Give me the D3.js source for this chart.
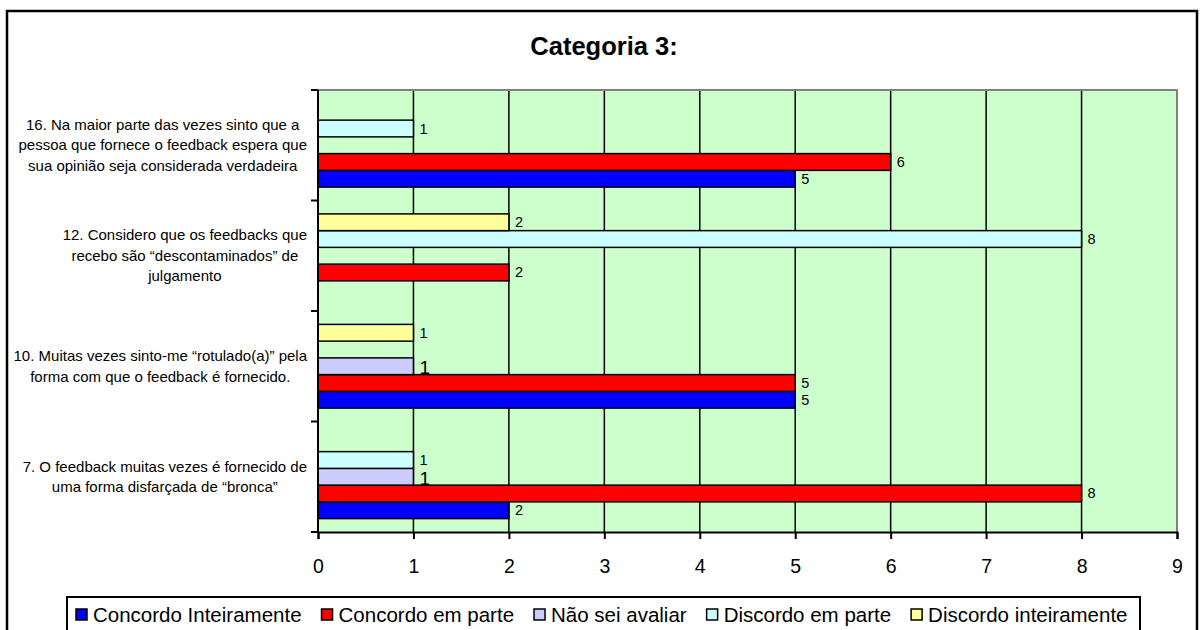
<!DOCTYPE html>
<html>
<head>
<meta charset="utf-8">
<script src="https://cdn.jsdelivr.net/npm/d3@7"></script>
<style>
  body { margin: 0; background: #fff; }
  svg { font-family: "Liberation Sans", Arial, sans-serif; display: block; }
</style>
</head>
<body>
<div id="chart"></div>
<script>
// chart data, category order top to bottom
const categories = [
  "16. Na maior parte das vezes sinto que a\npessoa que fornece o feedback espera que\nsua opinião seja considerada verdadeira",
  "12. Considero que os feedbacks que\nrecebo são “descontaminados” de\njulgamento",
  "10. Muitas vezes sinto-me “rotulado(a)” pela\nforma com que o feedback é fornecido.",
  "7. O feedback muitas vezes é fornecido de\numa forma disfarçada de “bronca”"
];

const seriesNames = ["Concordo Inteiramente", "Concordo em parte", "Não sei avaliar", "Discordo em parte", "Discordo inteiramente"];
const seriesColors = ["#0000FF", "#FF0000", "#CCCCFF", "#CCFFFF", "#FFFF99"];

// values per series (null = no bar)
const concordoInteiramente = [5, null, 5, 2];
const concordoEmParte = [6, 2, 5, 8];
const naoSeiAvaliar = [null, null, 1, 1];
const discordoEmParte = [1, 8, null, 1];
const discordoInteiramente = [null, 2, 1, null];

const xTicks = [0, 1, 2, 3, 4, 5, 6, 7, 8, 9];
const title = "Categoria 3:";

const seriesValues = [concordoInteiramente, concordoEmParte, naoSeiAvaliar, discordoEmParte, discordoInteiramente];

// canvas
const width = 1203;
const height = 630;
const plot = { left: 318, right: 1177, top: 90, bottom: 532 };

const svg = d3.select("#chart")
  .append("svg")
  .attr("width", width)
  .attr("height", height);

// outer frame
svg.append("rect")
  .attr("x", 7).attr("y", 11)
  .attr("width", 1190).attr("height", 700)
  .attr("fill", "#fff")
  .attr("stroke", "#000")
  .attr("stroke-width", 2.5);

// scales
const x = d3.scaleLinear().domain([0, 9]).range([plot.left, plot.right]);
const y = d3.scaleBand().domain(d3.range(categories.length)).range([plot.top, plot.bottom]).padding(0);
// slots inside a category: top slot is last series
const ySlot = d3.scaleBand()
  .domain(d3.range(seriesNames.length).reverse())
  .range([0, y.bandwidth()])
  .paddingInner(0)
  .paddingOuter(0.8);

// title
svg.append("text")
  .attr("x", 604).attr("y", 55)
  .attr("text-anchor", "middle")
  .attr("font-size", 25.5)
  .attr("font-weight", "bold")
  .text(title);

// plot background
svg.append("rect")
  .attr("x", plot.left).attr("y", plot.top)
  .attr("width", plot.right - plot.left)
  .attr("height", plot.bottom - plot.top)
  .attr("fill", "#CCFFCC");

// gridlines
svg.append("g")
  .selectAll("line")
  .data(xTicks.filter(d => d > 0 && d < 9))
  .enter().append("line")
  .attr("x1", d => x(d)).attr("x2", d => x(d))
  .attr("y1", plot.top).attr("y2", plot.bottom)
  .attr("stroke", "#000")
  .attr("stroke-width", 1.5);

// top and right border (gray)
svg.append("path")
  .attr("d", `M${plot.left},${plot.top}H${plot.right}V${plot.bottom}`)
  .attr("fill", "none")
  .attr("stroke", "#808080")
  .attr("stroke-width", 2);

// bars
const bars = [];
seriesValues.forEach((vals, s) => {
  vals.forEach((v, c) => {
    if (v != null) bars.push({ s, c, v });
  });
});

const gBars = svg.append("g");
gBars.selectAll("rect")
  .data(bars)
  .enter().append("rect")
  .attr("x", x(0))
  .attr("y", d => y(d.c) + ySlot(d.s))
  .attr("width", d => x(d.v) - x(0))
  .attr("height", ySlot.bandwidth())
  .attr("fill", d => seriesColors[d.s])
  .attr("stroke", "#000")
  .attr("stroke-width", 1.5);

// value labels
gBars.selectAll("text")
  .data(bars)
  .enter().append("text")
  .attr("x", d => x(d.v) + 6)
  .attr("y", d => y(d.c) + ySlot(d.s) + ySlot.bandwidth() / 2 + (d.s === 2 ? 8 : 5))
  .attr("font-size", d => d.s === 2 ? 19 : 14.5)
  .attr("fill", "#000")
  .text(d => d.v);

// y axis
svg.append("line")
  .attr("x1", plot.left).attr("x2", plot.left)
  .attr("y1", plot.top).attr("y2", plot.bottom)
  .attr("stroke", "#000").attr("stroke-width", 2);

svg.append("g")
  .selectAll("line")
  .data(d3.range(categories.length + 1))
  .enter().append("line")
  .attr("x1", plot.left - 7).attr("x2", plot.left)
  .attr("y1", d => plot.top + d * y.bandwidth())
  .attr("y2", d => plot.top + d * y.bandwidth())
  .attr("stroke", "#000").attr("stroke-width", 2);

// category labels: centered block, right edge near the axis
const lineH = 20.5;
categories.forEach((label, i) => {
  const lines = label.split("\n");
  const g = svg.append("g").attr("font-size", 15);
  const texts = lines.map((ln, k) => g.append("text")
    .attr("y", y(i) + y.bandwidth() / 2 + (k - (lines.length - 1) / 2) * lineH + 5)
    .attr("text-anchor", "middle")
    .text(ln));
  const maxW = d3.max(texts, t => t.node().getComputedTextLength());
  texts.forEach(t => t.attr("x", 307 - maxW / 2));
});

// x axis
const xAxis = svg.append("g")
  .attr("transform", `translate(0,${plot.bottom})`)
  .call(d3.axisBottom(x).tickValues(xTicks).tickSize(7).tickPadding(20).tickFormat(d3.format("d")));
xAxis.select(".domain").attr("stroke", "#000").attr("stroke-width", 2);
xAxis.selectAll(".tick line").attr("stroke", "#000").attr("stroke-width", 2);
xAxis.selectAll(".tick text")
  .attr("font-size", 19.5)
  .attr("font-family", "Liberation Sans, Arial, sans-serif")
  .attr("fill", "#000");

// legend
const legend = svg.append("g");
legend.append("rect")
  .attr("x", 67).attr("y", 597)
  .attr("width", 1073).attr("height", 60)
  .attr("fill", "#fff")
  .attr("stroke", "#000")
  .attr("stroke-width", 2);

let lx = 76;
seriesNames.forEach((name, i) => {
  legend.append("rect")
    .attr("x", lx).attr("y", 609)
    .attr("width", 11).attr("height", 11)
    .attr("fill", seriesColors[i])
    .attr("stroke", "#000")
    .attr("stroke-width", 1.5);
  const t = legend.append("text")
    .attr("x", lx + 17).attr("y", 622)
    .attr("font-size", 20.5)
    .text(name);
  lx += 17 + t.node().getComputedTextLength() + 20;
});
</script>
</body>
</html>
